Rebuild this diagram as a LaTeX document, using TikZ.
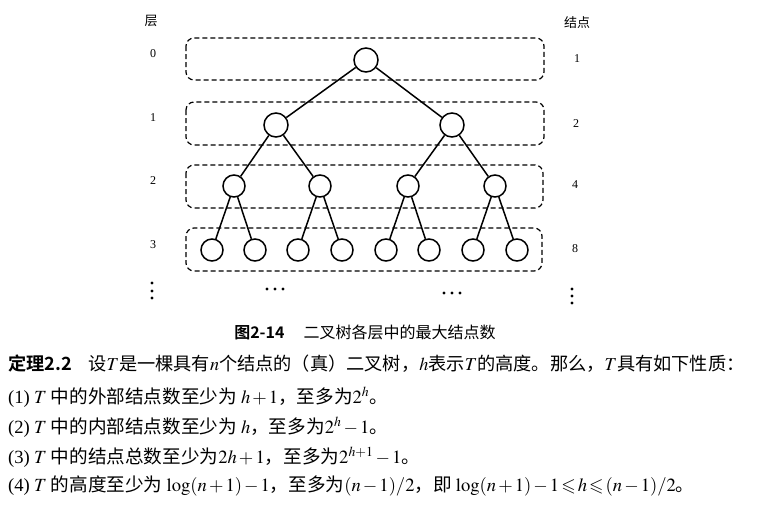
\documentclass[tikz,border=0pt]{standalone}
\usepackage{amssymb}
\usepackage{mathptmx}
\usepackage[no-math]{fontspec}
\setmainfont{Liberation Serif}
\newfontfamily\cjk{Noto Sans CJK SC}
\newfontfamily\cjkbf{Noto Sans CJK SC Bold}
\newcommand\tightmath{\medmuskip=2mu\relax\thickmuskip=2mu\relax}
\begin{document}
\begin{tikzpicture}
                        [x=1pt,y=-1pt,
                        vtx/.style={circle,draw,line width=1.5pt,minimum size=22pt,inner sep=0pt},
                        lvl/.style={draw,dash pattern=on 5pt off 3pt,line width=1.2pt,rounded corners=8pt},
                        num/.style={font=\fontsize{12}{13}\selectfont},
                        txt/.style={anchor=west,inner sep=0pt,
                          font=\fontsize{18.6}{20}\selectfont\cjk\tightmath}]
                        \useasboundingbox (0,0) rectangle (759,506);
                        %Ebenen
                        \draw [lvl] (186,38) rectangle (544,80);
                        \draw [lvl] (186,102) rectangle (544,145);
                        \draw [lvl] (186,165) rectangle (543,208);
                        \draw [lvl] (186,228) rectangle (542,271);
                        %Beschriftung links und rechts
                        \node [font=\fontsize{13}{14}\selectfont\cjk] (Lay) at (151,21) {层};
                        \node [font=\fontsize{13}{14}\selectfont\cjk] (Cnt) at (577,23) {结点};
                        \node [num] (L0) at (153,54) {0};
                        \node [num] (L1) at (153,118) {1};
                        \node [num] (L2) at (153,181) {2};
                        \node [num] (L3) at (153,245) {3};
                        \node [num] (C0) at (577,59) {1};
                        \node [num] (C1) at (576,124) {2};
                        \node [num] (C2) at (575,185) {4};
                        \node [num] (C3) at (575,249) {8};
                        %Punkte
                        \foreach \y in {283,291,298} \fill (152,\y) circle (1.6);
                        \foreach \y in {289,296,303} \fill (572,\y) circle (1.6);
                        \foreach \x in {267,275,283} \fill (\x,289) circle (1.6);
                        \foreach \x in {444,452,460} \fill (\x,293) circle (1.6);
                        %Knoten
                        \node [vtx,minimum size=24pt] (R) at (366,60) {};
                        \node [vtx,minimum size=24pt] (A) at (276,125) {};
                        \node [vtx,minimum size=24pt] (B) at (452,125) {};
                        \node [vtx] (AA) at (234,186) {};
                        \node [vtx] (AB) at (320,186) {};
                        \node [vtx] (BA) at (408,186) {};
                        \node [vtx] (BB) at (495,186) {};
                        \node [vtx] (AAa) at (212,250) {};
                        \node [vtx] (AAb) at (255,250) {};
                        \node [vtx] (ABa) at (298,250) {};
                        \node [vtx] (ABb) at (342,250) {};
                        \node [vtx] (BAa) at (386,250) {};
                        \node [vtx] (BAb) at (429,250) {};
                        \node [vtx] (BBa) at (473,250) {};
                        \node [vtx] (BBb) at (517,250) {};
                        %Kanten
                        \draw [line width=1.5pt] (R) -- (A) (R) -- (B)
                          (A) -- (AA) (A) -- (AB) (B) -- (BA) (B) -- (BB);
                        \foreach \p in {AA,AB,BA,BB}
                          \draw [line width=1.5pt] (\p) -- (\p a) (\p) -- (\p b);
                        %Bildunterschrift
                        \node [font=\fontsize{16}{17}\selectfont] (Cap) at (365,332)
                          {{\cjkbf 图2-14}\hspace{1.2em}{\cjk 二叉树各层中的最大结点数}};
                        %Satz
                        \node [txt,font=\fontsize{18.2}{20}\selectfont\cjk] (Thm) at (8,364)
                          {{\cjkbf 定理2.2}\hspace{0.9em}设$T$是一棵具有$n$个结点的（真）二叉树，$h$表示$T$的高度。那么，$T$具有如下性质：};
                        \node [txt] (P1) at (8,397)
                          {{\rmfamily (1)} $T$ 中的外部结点数至少为 $h+1$，至多为$2^h$。};
                        \node [txt] (P2) at (8,427)
                          {{\rmfamily (2)} $T$ 中的内部结点数至少为 $h$，至多为$2^h-1$。};
                        \node [txt] (P3) at (8,457)
                          {{\rmfamily (3)} $T$ 中的结点总数至少为$2h+1$，至多为$2^{h+1}-1$。};
                        \node [txt] (P4) at (8,486)
                          {{\rmfamily (4)} $T$ 的高度至少为 $\log(n+1)-1$，至多为$(n-1)/2$，即 $\log(n+1)-1\leqslant h\leqslant(n-1)/2$。};
                \end{tikzpicture}
\end{document}
